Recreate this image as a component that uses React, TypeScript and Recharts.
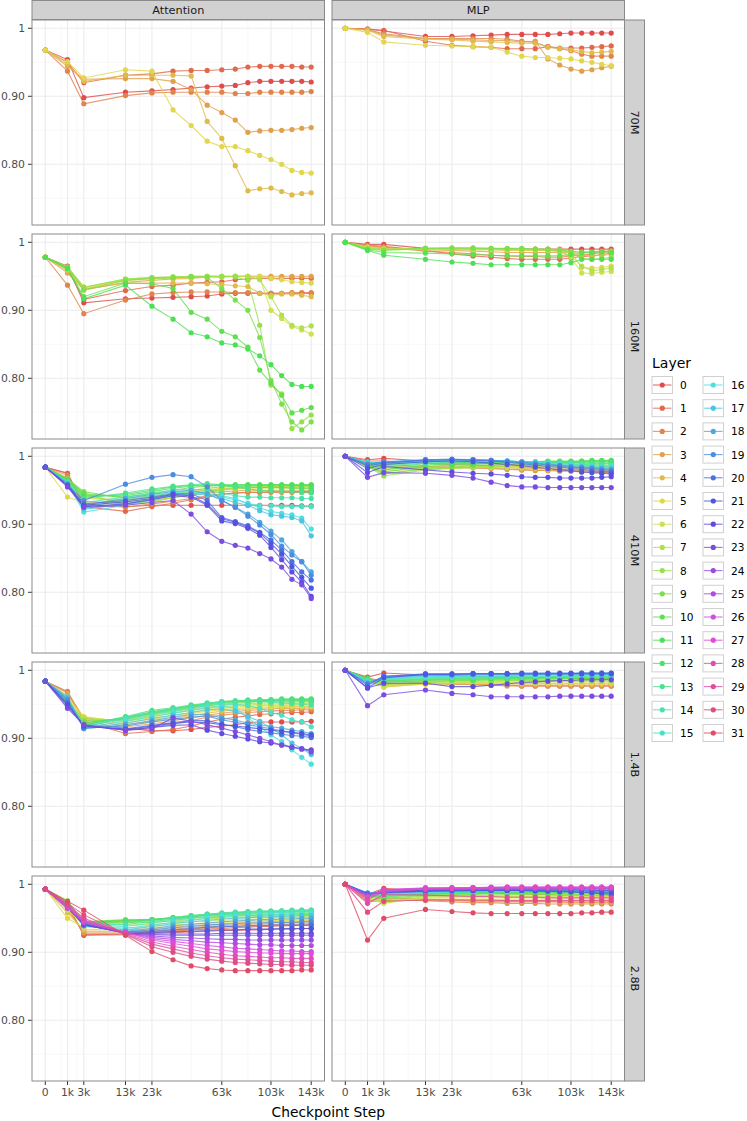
import React from "react";
import { LineChart, Line, XAxis, YAxis, CartesianGrid } from "recharts";

// checkpoint steps on the x axis (sqrt scale)
const steps = [0, 1000, 3000, 13000, 23000, 33000, 43000, 53000, 63000, 73000, 83000, 93000, 103000, 113000, 123000, 133000, 143000];
const xTicks = [0, 1000, 3000, 13000, 23000, 63000, 103000, 143000];
const xTickLabels = ["0", "1k", "3k", "13k", "23k", "63k", "103k", "143k"];
const xMinor = [500, 2000, 8000, 18000, 43000, 83000, 123000];
const yTicks = [0.8, 0.9, 1];
const yTickLabels = ["0.80", "0.90", "1"];
const yMinor = [0.75, 0.85, 0.95];
const models = ["70M", "160M", "410M", "1.4B", "2.8B"];
const modules = ["Attention", "MLP"];

// one row per layer, one value per checkpoint step
const attention70M = [
  [0.968, 0.954, 0.898, 0.906, 0.908, 0.910, 0.912, 0.914, 0.915, 0.916, 0.920, 0.922, 0.922, 0.922, 0.922, 0.922, 0.921],
  [0.968, 0.950, 0.920, 0.931, 0.933, 0.937, 0.938, 0.938, 0.939, 0.940, 0.943, 0.944, 0.944, 0.944, 0.944, 0.943, 0.943],
  [0.968, 0.937, 0.889, 0.901, 0.905, 0.906, 0.906, 0.906, 0.906, 0.904, 0.904, 0.906, 0.906, 0.906, 0.906, 0.906, 0.907],
  [0.968, 0.944, 0.925, 0.926, 0.926, 0.922, 0.910, 0.887, 0.876, 0.865, 0.847, 0.849, 0.850, 0.850, 0.851, 0.853, 0.854],
  [0.968, 0.947, 0.922, 0.931, 0.931, 0.931, 0.930, 0.863, 0.838, 0.798, 0.761, 0.764, 0.765, 0.760, 0.755, 0.757, 0.758],
  [0.968, 0.951, 0.927, 0.939, 0.937, 0.880, 0.857, 0.834, 0.826, 0.826, 0.820, 0.813, 0.807, 0.800, 0.791, 0.788, 0.787],
];

const mlp70M = [
  [1.0, 0.999, 0.996, 0.988, 0.988, 0.989, 0.990, 0.991, 0.991, 0.991, 0.991, 0.992, 0.993, 0.993, 0.993, 0.993, 0.993],
  [1.0, 0.999, 0.997, 0.981, 0.975, 0.973, 0.972, 0.970, 0.970, 0.970, 0.973, 0.971, 0.971, 0.971, 0.972, 0.973, 0.974],
  [1.0, 0.998, 0.992, 0.985, 0.985, 0.985, 0.985, 0.984, 0.981, 0.979, 0.973, 0.970, 0.967, 0.962, 0.959, 0.959, 0.959],
  [1.0, 0.998, 0.990, 0.985, 0.984, 0.983, 0.982, 0.982, 0.980, 0.981, 0.955, 0.946, 0.940, 0.937, 0.939, 0.942, 0.944],
  [1.0, 0.997, 0.988, 0.984, 0.983, 0.981, 0.980, 0.979, 0.978, 0.978, 0.972, 0.970, 0.968, 0.966, 0.964, 0.965, 0.966],
  [1.0, 0.994, 0.980, 0.975, 0.974, 0.973, 0.972, 0.965, 0.959, 0.957, 0.957, 0.956, 0.955, 0.952, 0.950, 0.947, 0.945],
];

const attention160M = [
  [0.978, 0.965, 0.911, 0.917, 0.918, 0.919, 0.920, 0.921, 0.924, 0.925, 0.925, 0.925, 0.925, 0.925, 0.925, 0.925, 0.925],
  [0.978, 0.960, 0.916, 0.929, 0.935, 0.937, 0.940, 0.941, 0.942, 0.945, 0.946, 0.947, 0.947, 0.947, 0.947, 0.947, 0.947],
  [0.978, 0.937, 0.895, 0.915, 0.924, 0.926, 0.927, 0.927, 0.927, 0.926, 0.926, 0.925, 0.925, 0.925, 0.926, 0.926, 0.926],
  [0.978, 0.955, 0.930, 0.941, 0.944, 0.946, 0.947, 0.949, 0.949, 0.950, 0.950, 0.950, 0.950, 0.950, 0.950, 0.950, 0.950],
  [0.978, 0.958, 0.931, 0.940, 0.940, 0.940, 0.940, 0.939, 0.938, 0.936, 0.935, 0.925, 0.922, 0.924, 0.924, 0.922, 0.920],
  [0.978, 0.960, 0.932, 0.944, 0.946, 0.947, 0.948, 0.949, 0.949, 0.950, 0.950, 0.950, 0.947, 0.945, 0.942, 0.941, 0.940],
  [0.978, 0.962, 0.933, 0.945, 0.947, 0.948, 0.949, 0.950, 0.950, 0.950, 0.950, 0.948, 0.900, 0.888, 0.876, 0.871, 0.865],
  [0.978, 0.963, 0.934, 0.946, 0.948, 0.949, 0.950, 0.950, 0.950, 0.950, 0.950, 0.945, 0.920, 0.893, 0.878, 0.874, 0.877],
  [0.978, 0.964, 0.934, 0.946, 0.948, 0.949, 0.950, 0.950, 0.950, 0.949, 0.944, 0.878, 0.790, 0.777, 0.726, 0.736, 0.746],
  [0.978, 0.963, 0.930, 0.944, 0.947, 0.948, 0.949, 0.948, 0.932, 0.915, 0.900, 0.860, 0.797, 0.762, 0.736, 0.724, 0.736],
  [0.978, 0.962, 0.920, 0.940, 0.939, 0.932, 0.897, 0.887, 0.869, 0.861, 0.846, 0.812, 0.793, 0.775, 0.749, 0.753, 0.757],
  [0.978, 0.961, 0.917, 0.937, 0.906, 0.887, 0.867, 0.861, 0.852, 0.849, 0.843, 0.833, 0.820, 0.804, 0.791, 0.788, 0.788],
];

const mlp160M = [
  [1.0, 0.997, 0.997, 0.991, 0.990, 0.990, 0.990, 0.990, 0.990, 0.990, 0.990, 0.990, 0.990, 0.990, 0.990, 0.990, 0.990],
  [1.0, 0.996, 0.994, 0.988, 0.983, 0.980, 0.978, 0.976, 0.975, 0.975, 0.975, 0.975, 0.977, 0.979, 0.980, 0.982, 0.984],
  [1.0, 0.995, 0.993, 0.987, 0.985, 0.983, 0.981, 0.980, 0.979, 0.979, 0.978, 0.978, 0.980, 0.981, 0.983, 0.985, 0.987],
  [1.0, 0.994, 0.992, 0.989, 0.988, 0.987, 0.986, 0.985, 0.985, 0.985, 0.985, 0.985, 0.985, 0.986, 0.986, 0.987, 0.987],
  [1.0, 0.993, 0.991, 0.990, 0.989, 0.989, 0.989, 0.988, 0.988, 0.988, 0.988, 0.988, 0.984, 0.981, 0.980, 0.981, 0.982],
  [1.0, 0.993, 0.990, 0.989, 0.989, 0.989, 0.989, 0.989, 0.989, 0.989, 0.989, 0.989, 0.985, 0.963, 0.962, 0.963, 0.965],
  [1.0, 0.992, 0.990, 0.990, 0.990, 0.990, 0.990, 0.989, 0.989, 0.989, 0.988, 0.986, 0.978, 0.955, 0.954, 0.956, 0.957],
  [1.0, 0.992, 0.990, 0.991, 0.991, 0.991, 0.990, 0.990, 0.990, 0.989, 0.988, 0.987, 0.980, 0.965, 0.958, 0.960, 0.962],
  [1.0, 0.991, 0.989, 0.991, 0.991, 0.991, 0.991, 0.990, 0.990, 0.990, 0.989, 0.988, 0.985, 0.976, 0.975, 0.976, 0.978],
  [1.0, 0.990, 0.988, 0.991, 0.992, 0.992, 0.991, 0.991, 0.991, 0.990, 0.990, 0.989, 0.987, 0.985, 0.985, 0.986, 0.987],
  [1.0, 0.989, 0.985, 0.984, 0.983, 0.982, 0.981, 0.980, 0.980, 0.980, 0.980, 0.980, 0.982, 0.984, 0.985, 0.986, 0.985],
  [1.0, 0.988, 0.981, 0.975, 0.971, 0.969, 0.967, 0.967, 0.967, 0.967, 0.967, 0.967, 0.970, 0.975, 0.975, 0.975, 0.975],
];

const attention410M = [
  [0.984, 0.975, 0.928, 0.926, 0.928, 0.928, 0.928, 0.928, 0.928, 0.928, 0.928, 0.928, 0.928, 0.928, 0.928, 0.927, 0.927],
  [0.984, 0.975, 0.926, 0.919, 0.926, 0.931, 0.936, 0.940, 0.944, 0.946, 0.947, 0.947, 0.948, 0.948, 0.948, 0.948, 0.948],
  [0.984, 0.972, 0.930, 0.925, 0.930, 0.934, 0.938, 0.942, 0.945, 0.946, 0.947, 0.947, 0.947, 0.947, 0.947, 0.947, 0.947],
  [0.984, 0.968, 0.934, 0.930, 0.935, 0.939, 0.943, 0.946, 0.948, 0.949, 0.950, 0.950, 0.950, 0.950, 0.950, 0.950, 0.950],
  [0.984, 0.960, 0.938, 0.936, 0.940, 0.943, 0.947, 0.950, 0.952, 0.953, 0.954, 0.954, 0.954, 0.954, 0.954, 0.954, 0.955],
  [0.984, 0.940, 0.932, 0.935, 0.940, 0.944, 0.948, 0.951, 0.953, 0.954, 0.954, 0.955, 0.955, 0.955, 0.955, 0.955, 0.956],
  [0.984, 0.962, 0.940, 0.933, 0.937, 0.942, 0.946, 0.949, 0.951, 0.952, 0.953, 0.953, 0.953, 0.953, 0.953, 0.953, 0.953],
  [0.984, 0.965, 0.944, 0.930, 0.934, 0.940, 0.945, 0.948, 0.951, 0.953, 0.954, 0.955, 0.955, 0.955, 0.955, 0.955, 0.955],
  [0.984, 0.966, 0.946, 0.928, 0.933, 0.939, 0.944, 0.948, 0.951, 0.953, 0.954, 0.955, 0.956, 0.956, 0.956, 0.956, 0.956],
  [0.984, 0.967, 0.948, 0.938, 0.942, 0.946, 0.950, 0.953, 0.955, 0.956, 0.957, 0.957, 0.957, 0.957, 0.957, 0.957, 0.957],
  [0.984, 0.966, 0.945, 0.940, 0.945, 0.950, 0.954, 0.956, 0.957, 0.958, 0.958, 0.958, 0.958, 0.958, 0.958, 0.958, 0.958],
  [0.984, 0.965, 0.942, 0.942, 0.948, 0.953, 0.956, 0.957, 0.958, 0.958, 0.958, 0.958, 0.958, 0.958, 0.958, 0.958, 0.958],
  [0.984, 0.964, 0.940, 0.944, 0.950, 0.955, 0.957, 0.958, 0.957, 0.956, 0.955, 0.954, 0.954, 0.954, 0.953, 0.953, 0.952],
  [0.984, 0.963, 0.938, 0.946, 0.952, 0.956, 0.958, 0.960, 0.958, 0.955, 0.952, 0.950, 0.949, 0.948, 0.948, 0.947, 0.946],
  [0.984, 0.962, 0.932, 0.940, 0.946, 0.950, 0.952, 0.950, 0.946, 0.942, 0.940, 0.940, 0.939, 0.939, 0.939, 0.938, 0.938],
  [0.984, 0.961, 0.925, 0.936, 0.942, 0.946, 0.948, 0.946, 0.942, 0.938, 0.930, 0.928, 0.927, 0.926, 0.926, 0.926, 0.926],
  [0.984, 0.960, 0.918, 0.928, 0.936, 0.943, 0.947, 0.945, 0.940, 0.936, 0.931, 0.924, 0.919, 0.916, 0.914, 0.909, 0.893],
  [0.984, 0.960, 0.922, 0.930, 0.937, 0.942, 0.945, 0.943, 0.938, 0.932, 0.928, 0.920, 0.914, 0.912, 0.910, 0.905, 0.883],
  [0.984, 0.960, 0.928, 0.938, 0.944, 0.948, 0.950, 0.945, 0.935, 0.925, 0.915, 0.903, 0.890, 0.877, 0.860, 0.845, 0.830],
  [0.984, 0.958, 0.935, 0.959, 0.969, 0.973, 0.970, 0.955, 0.935, 0.925, 0.912, 0.899, 0.885, 0.868, 0.855, 0.845, 0.825],
  [0.984, 0.958, 0.930, 0.935, 0.940, 0.945, 0.945, 0.935, 0.910, 0.904, 0.898, 0.888, 0.877, 0.862, 0.845, 0.830, 0.818],
  [0.984, 0.957, 0.928, 0.933, 0.938, 0.944, 0.942, 0.930, 0.908, 0.903, 0.896, 0.887, 0.872, 0.856, 0.838, 0.822, 0.806],
  [0.984, 0.956, 0.926, 0.930, 0.936, 0.942, 0.940, 0.928, 0.905, 0.901, 0.894, 0.884, 0.866, 0.848, 0.830, 0.815, 0.794],
  [0.984, 0.955, 0.925, 0.928, 0.932, 0.935, 0.915, 0.889, 0.875, 0.869, 0.865, 0.857, 0.849, 0.837, 0.819, 0.811, 0.791],
];

const mlp410M = [
  [1.0, 0.995, 0.997, 0.993, 0.991, 0.990, 0.989, 0.988, 0.987, 0.986, 0.985, 0.984, 0.984, 0.983, 0.982, 0.981, 0.980],
  [1.0, 0.993, 0.993, 0.990, 0.988, 0.987, 0.986, 0.985, 0.984, 0.983, 0.982, 0.981, 0.980, 0.979, 0.978, 0.977, 0.976],
  [1.0, 0.991, 0.988, 0.985, 0.984, 0.983, 0.982, 0.981, 0.980, 0.979, 0.979, 0.978, 0.978, 0.977, 0.977, 0.976, 0.976],
  [1.0, 0.989, 0.985, 0.984, 0.983, 0.983, 0.982, 0.981, 0.980, 0.980, 0.979, 0.979, 0.979, 0.978, 0.978, 0.978, 0.978],
  [1.0, 0.988, 0.983, 0.984, 0.984, 0.984, 0.983, 0.983, 0.982, 0.982, 0.981, 0.981, 0.981, 0.980, 0.980, 0.980, 0.980],
  [1.0, 0.987, 0.981, 0.983, 0.984, 0.984, 0.984, 0.984, 0.984, 0.983, 0.983, 0.983, 0.983, 0.983, 0.983, 0.983, 0.983],
  [1.0, 0.986, 0.978, 0.982, 0.983, 0.984, 0.984, 0.985, 0.985, 0.985, 0.985, 0.985, 0.985, 0.985, 0.985, 0.985, 0.985],
  [1.0, 0.985, 0.975, 0.981, 0.983, 0.984, 0.985, 0.986, 0.986, 0.986, 0.987, 0.987, 0.987, 0.987, 0.987, 0.987, 0.987],
  [1.0, 0.985, 0.971, 0.980, 0.982, 0.984, 0.985, 0.986, 0.987, 0.988, 0.988, 0.989, 0.989, 0.989, 0.989, 0.989, 0.990],
  [1.0, 0.986, 0.974, 0.982, 0.984, 0.986, 0.987, 0.988, 0.989, 0.990, 0.990, 0.991, 0.991, 0.991, 0.991, 0.992, 0.992],
  [1.0, 0.987, 0.977, 0.985, 0.987, 0.988, 0.989, 0.990, 0.991, 0.991, 0.992, 0.992, 0.992, 0.993, 0.993, 0.993, 0.993],
  [1.0, 0.988, 0.980, 0.987, 0.989, 0.990, 0.991, 0.991, 0.992, 0.992, 0.993, 0.993, 0.993, 0.993, 0.994, 0.994, 0.994],
  [1.0, 0.989, 0.984, 0.989, 0.990, 0.991, 0.991, 0.992, 0.992, 0.992, 0.992, 0.992, 0.992, 0.992, 0.992, 0.992, 0.992],
  [1.0, 0.990, 0.986, 0.990, 0.991, 0.992, 0.992, 0.992, 0.992, 0.992, 0.991, 0.991, 0.991, 0.990, 0.990, 0.990, 0.990],
  [1.0, 0.990, 0.988, 0.991, 0.992, 0.993, 0.993, 0.993, 0.992, 0.992, 0.991, 0.990, 0.989, 0.988, 0.988, 0.987, 0.987],
  [1.0, 0.991, 0.989, 0.992, 0.993, 0.993, 0.993, 0.993, 0.992, 0.991, 0.990, 0.989, 0.988, 0.987, 0.986, 0.985, 0.985],
  [1.0, 0.991, 0.990, 0.993, 0.994, 0.994, 0.994, 0.993, 0.992, 0.991, 0.989, 0.988, 0.987, 0.986, 0.985, 0.984, 0.983],
  [1.0, 0.990, 0.991, 0.994, 0.995, 0.995, 0.994, 0.993, 0.992, 0.990, 0.989, 0.987, 0.986, 0.985, 0.984, 0.983, 0.982],
  [1.0, 0.989, 0.991, 0.995, 0.995, 0.995, 0.994, 0.993, 0.991, 0.990, 0.988, 0.987, 0.985, 0.984, 0.983, 0.982, 0.981],
  [1.0, 0.988, 0.992, 0.995, 0.996, 0.995, 0.994, 0.992, 0.991, 0.989, 0.987, 0.986, 0.984, 0.983, 0.982, 0.980, 0.979],
  [1.0, 0.986, 0.990, 0.994, 0.995, 0.994, 0.993, 0.991, 0.989, 0.987, 0.985, 0.984, 0.982, 0.981, 0.979, 0.978, 0.977],
  [1.0, 0.982, 0.988, 0.992, 0.993, 0.992, 0.990, 0.988, 0.986, 0.984, 0.982, 0.980, 0.979, 0.977, 0.976, 0.975, 0.974],
  [1.0, 0.976, 0.985, 0.980, 0.977, 0.975, 0.974, 0.972, 0.970, 0.969, 0.969, 0.968, 0.968, 0.968, 0.968, 0.969, 0.970],
  [1.0, 0.969, 0.976, 0.975, 0.972, 0.968, 0.962, 0.957, 0.955, 0.955, 0.954, 0.954, 0.954, 0.954, 0.954, 0.954, 0.954],
];

const attention1p4B = [
  [0.984, 0.958, 0.921, 0.915, 0.911, 0.911, 0.913, 0.916, 0.918, 0.920, 0.923, 0.924, 0.924, 0.924, 0.924, 0.924, 0.925],
  [0.984, 0.968, 0.925, 0.907, 0.910, 0.913, 0.918, 0.924, 0.928, 0.931, 0.933, 0.935, 0.936, 0.937, 0.938, 0.938, 0.939],
  [0.984, 0.969, 0.928, 0.912, 0.916, 0.921, 0.926, 0.931, 0.934, 0.936, 0.938, 0.939, 0.940, 0.941, 0.941, 0.942, 0.942],
  [0.984, 0.966, 0.930, 0.917, 0.921, 0.926, 0.930, 0.934, 0.937, 0.939, 0.941, 0.942, 0.943, 0.944, 0.944, 0.944, 0.945],
  [0.984, 0.962, 0.931, 0.920, 0.925, 0.929, 0.933, 0.937, 0.940, 0.942, 0.943, 0.944, 0.945, 0.945, 0.946, 0.946, 0.946],
  [0.984, 0.958, 0.932, 0.923, 0.928, 0.932, 0.936, 0.940, 0.942, 0.944, 0.945, 0.946, 0.946, 0.947, 0.947, 0.947, 0.947],
  [0.984, 0.955, 0.931, 0.925, 0.930, 0.934, 0.938, 0.942, 0.944, 0.946, 0.947, 0.948, 0.948, 0.948, 0.948, 0.949, 0.949],
  [0.984, 0.953, 0.929, 0.926, 0.932, 0.937, 0.941, 0.944, 0.946, 0.948, 0.949, 0.950, 0.950, 0.950, 0.950, 0.951, 0.951],
  [0.984, 0.952, 0.927, 0.927, 0.934, 0.939, 0.943, 0.946, 0.948, 0.950, 0.951, 0.952, 0.952, 0.952, 0.953, 0.953, 0.953],
  [0.984, 0.951, 0.925, 0.928, 0.936, 0.941, 0.945, 0.948, 0.950, 0.952, 0.953, 0.954, 0.954, 0.954, 0.954, 0.955, 0.955],
  [0.984, 0.950, 0.923, 0.929, 0.937, 0.942, 0.946, 0.949, 0.952, 0.953, 0.954, 0.955, 0.955, 0.956, 0.956, 0.956, 0.956],
  [0.984, 0.949, 0.921, 0.930, 0.938, 0.943, 0.947, 0.950, 0.953, 0.954, 0.955, 0.956, 0.956, 0.957, 0.957, 0.957, 0.957],
  [0.984, 0.950, 0.920, 0.931, 0.939, 0.944, 0.948, 0.951, 0.954, 0.955, 0.956, 0.957, 0.957, 0.958, 0.958, 0.958, 0.958],
  [0.984, 0.952, 0.919, 0.932, 0.941, 0.945, 0.949, 0.952, 0.954, 0.955, 0.956, 0.956, 0.956, 0.956, 0.956, 0.955, 0.955],
  [0.984, 0.955, 0.918, 0.930, 0.938, 0.943, 0.947, 0.951, 0.953, 0.954, 0.954, 0.954, 0.953, 0.952, 0.951, 0.950, 0.949],
  [0.984, 0.958, 0.917, 0.928, 0.935, 0.940, 0.944, 0.948, 0.950, 0.950, 0.948, 0.944, 0.938, 0.934, 0.927, 0.924, 0.917],
  [0.984, 0.960, 0.916, 0.925, 0.932, 0.937, 0.941, 0.945, 0.947, 0.945, 0.930, 0.917, 0.905, 0.895, 0.883, 0.872, 0.862],
  [0.984, 0.961, 0.915, 0.922, 0.929, 0.934, 0.938, 0.942, 0.943, 0.940, 0.932, 0.925, 0.915, 0.905, 0.893, 0.885, 0.876],
  [0.984, 0.958, 0.914, 0.920, 0.926, 0.931, 0.935, 0.935, 0.930, 0.927, 0.922, 0.920, 0.917, 0.915, 0.912, 0.910, 0.907],
  [0.984, 0.956, 0.915, 0.918, 0.924, 0.928, 0.931, 0.933, 0.927, 0.924, 0.920, 0.917, 0.914, 0.911, 0.908, 0.906, 0.903],
  [0.984, 0.952, 0.917, 0.914, 0.919, 0.923, 0.926, 0.926, 0.921, 0.917, 0.913, 0.910, 0.908, 0.906, 0.904, 0.903, 0.901],
  [0.984, 0.950, 0.918, 0.913, 0.918, 0.922, 0.924, 0.923, 0.920, 0.918, 0.916, 0.914, 0.912, 0.910, 0.909, 0.907, 0.905],
  [0.984, 0.947, 0.919, 0.912, 0.916, 0.919, 0.920, 0.912, 0.907, 0.903, 0.899, 0.895, 0.893, 0.890, 0.887, 0.884, 0.883],
  [0.984, 0.944, 0.920, 0.912, 0.914, 0.930, 0.925, 0.920, 0.915, 0.910, 0.905, 0.900, 0.895, 0.890, 0.887, 0.885, 0.880],
];

const mlp1p4B = [
  [1.0, 0.990, 0.996, 0.993, 0.992, 0.991, 0.990, 0.990, 0.989, 0.989, 0.989, 0.989, 0.988, 0.988, 0.988, 0.988, 0.988],
  [1.0, 0.988, 0.985, 0.982, 0.980, 0.979, 0.978, 0.978, 0.977, 0.977, 0.977, 0.977, 0.977, 0.977, 0.977, 0.977, 0.977],
  [1.0, 0.987, 0.980, 0.981, 0.980, 0.979, 0.978, 0.977, 0.977, 0.977, 0.977, 0.977, 0.977, 0.977, 0.977, 0.977, 0.977],
  [1.0, 0.986, 0.978, 0.980, 0.980, 0.979, 0.979, 0.978, 0.978, 0.978, 0.978, 0.978, 0.978, 0.978, 0.978, 0.978, 0.978],
  [1.0, 0.985, 0.976, 0.980, 0.980, 0.980, 0.980, 0.980, 0.980, 0.980, 0.980, 0.980, 0.980, 0.980, 0.980, 0.980, 0.980],
  [1.0, 0.984, 0.975, 0.980, 0.981, 0.981, 0.981, 0.981, 0.981, 0.981, 0.981, 0.981, 0.981, 0.981, 0.981, 0.981, 0.981],
  [1.0, 0.984, 0.977, 0.981, 0.982, 0.982, 0.982, 0.982, 0.982, 0.982, 0.983, 0.983, 0.983, 0.983, 0.983, 0.983, 0.983],
  [1.0, 0.985, 0.979, 0.982, 0.983, 0.983, 0.983, 0.984, 0.984, 0.984, 0.984, 0.984, 0.984, 0.984, 0.984, 0.984, 0.984],
  [1.0, 0.986, 0.980, 0.983, 0.984, 0.984, 0.985, 0.985, 0.985, 0.985, 0.985, 0.985, 0.985, 0.985, 0.985, 0.986, 0.986],
  [1.0, 0.987, 0.982, 0.984, 0.985, 0.985, 0.986, 0.986, 0.986, 0.986, 0.986, 0.987, 0.987, 0.987, 0.987, 0.987, 0.987],
  [1.0, 0.988, 0.983, 0.985, 0.986, 0.986, 0.987, 0.987, 0.987, 0.987, 0.988, 0.988, 0.988, 0.988, 0.988, 0.988, 0.988],
  [1.0, 0.988, 0.984, 0.986, 0.987, 0.987, 0.988, 0.988, 0.988, 0.988, 0.989, 0.989, 0.989, 0.989, 0.989, 0.989, 0.989],
  [1.0, 0.987, 0.985, 0.987, 0.988, 0.988, 0.989, 0.989, 0.989, 0.989, 0.990, 0.990, 0.990, 0.990, 0.990, 0.990, 0.990],
  [1.0, 0.986, 0.986, 0.988, 0.989, 0.989, 0.990, 0.990, 0.990, 0.990, 0.990, 0.991, 0.991, 0.991, 0.991, 0.991, 0.991],
  [1.0, 0.985, 0.987, 0.989, 0.990, 0.990, 0.990, 0.991, 0.991, 0.991, 0.991, 0.991, 0.992, 0.992, 0.992, 0.992, 0.992],
  [1.0, 0.984, 0.988, 0.990, 0.990, 0.991, 0.991, 0.991, 0.992, 0.992, 0.992, 0.992, 0.992, 0.993, 0.993, 0.993, 0.993],
  [1.0, 0.983, 0.988, 0.991, 0.991, 0.992, 0.992, 0.992, 0.993, 0.993, 0.993, 0.993, 0.993, 0.993, 0.994, 0.994, 0.994],
  [1.0, 0.982, 0.989, 0.992, 0.992, 0.993, 0.993, 0.993, 0.993, 0.994, 0.994, 0.994, 0.994, 0.994, 0.994, 0.994, 0.995],
  [1.0, 0.981, 0.990, 0.993, 0.993, 0.994, 0.994, 0.994, 0.994, 0.994, 0.995, 0.995, 0.995, 0.995, 0.995, 0.995, 0.995],
  [1.0, 0.980, 0.991, 0.994, 0.994, 0.995, 0.995, 0.995, 0.995, 0.995, 0.995, 0.995, 0.995, 0.996, 0.996, 0.996, 0.996],
  [1.0, 0.978, 0.991, 0.995, 0.995, 0.995, 0.995, 0.995, 0.996, 0.996, 0.996, 0.996, 0.996, 0.996, 0.996, 0.996, 0.996],
  [1.0, 0.974, 0.989, 0.994, 0.994, 0.995, 0.995, 0.995, 0.995, 0.995, 0.995, 0.995, 0.995, 0.995, 0.995, 0.995, 0.995],
  [1.0, 0.974, 0.981, 0.981, 0.976, 0.976, 0.978, 0.980, 0.982, 0.983, 0.984, 0.985, 0.985, 0.986, 0.986, 0.986, 0.986],
  [1.0, 0.948, 0.964, 0.971, 0.966, 0.964, 0.961, 0.961, 0.961, 0.961, 0.961, 0.962, 0.962, 0.962, 0.962, 0.962, 0.962],
];

const attention2p8B = [
  [0.993, 0.970, 0.925, 0.926, 0.928, 0.929, 0.930, 0.931, 0.932, 0.932, 0.933, 0.933, 0.934, 0.934, 0.934, 0.935, 0.935],
  [0.993, 0.968, 0.926, 0.927, 0.929, 0.931, 0.933, 0.934, 0.935, 0.936, 0.937, 0.938, 0.938, 0.939, 0.939, 0.940, 0.940],
  [0.993, 0.965, 0.928, 0.928, 0.930, 0.932, 0.934, 0.936, 0.937, 0.938, 0.939, 0.940, 0.940, 0.941, 0.941, 0.942, 0.942],
  [0.993, 0.962, 0.930, 0.930, 0.932, 0.934, 0.936, 0.938, 0.939, 0.940, 0.941, 0.942, 0.943, 0.943, 0.944, 0.944, 0.945],
  [0.993, 0.958, 0.933, 0.933, 0.935, 0.937, 0.939, 0.941, 0.942, 0.943, 0.944, 0.945, 0.945, 0.946, 0.946, 0.946, 0.947],
  [0.993, 0.950, 0.936, 0.936, 0.938, 0.940, 0.942, 0.943, 0.944, 0.945, 0.946, 0.946, 0.947, 0.947, 0.947, 0.948, 0.948],
  [0.993, 0.962, 0.940, 0.940, 0.941, 0.943, 0.945, 0.946, 0.947, 0.948, 0.948, 0.949, 0.949, 0.949, 0.949, 0.949, 0.949],
  [0.993, 0.976, 0.943, 0.944, 0.944, 0.946, 0.948, 0.949, 0.950, 0.950, 0.951, 0.951, 0.951, 0.951, 0.951, 0.951, 0.951],
  [0.993, 0.975, 0.944, 0.946, 0.946, 0.948, 0.950, 0.951, 0.952, 0.952, 0.952, 0.953, 0.953, 0.953, 0.953, 0.953, 0.953],
  [0.993, 0.974, 0.945, 0.948, 0.948, 0.950, 0.951, 0.952, 0.953, 0.954, 0.954, 0.954, 0.954, 0.954, 0.955, 0.955, 0.955],
  [0.993, 0.973, 0.945, 0.947, 0.948, 0.950, 0.952, 0.954, 0.955, 0.955, 0.956, 0.956, 0.956, 0.956, 0.956, 0.956, 0.956],
  [0.993, 0.972, 0.944, 0.946, 0.948, 0.951, 0.953, 0.955, 0.956, 0.957, 0.957, 0.958, 0.958, 0.958, 0.958, 0.958, 0.958],
  [0.993, 0.972, 0.943, 0.945, 0.948, 0.951, 0.954, 0.956, 0.957, 0.958, 0.959, 0.959, 0.960, 0.960, 0.960, 0.960, 0.960],
  [0.993, 0.971, 0.942, 0.943, 0.947, 0.951, 0.954, 0.956, 0.958, 0.959, 0.960, 0.961, 0.961, 0.961, 0.962, 0.962, 0.962],
  [0.993, 0.970, 0.941, 0.941, 0.945, 0.949, 0.952, 0.955, 0.957, 0.958, 0.959, 0.960, 0.960, 0.961, 0.961, 0.962, 0.962],
  [0.993, 0.970, 0.940, 0.938, 0.943, 0.947, 0.950, 0.953, 0.955, 0.956, 0.957, 0.958, 0.958, 0.959, 0.959, 0.960, 0.960],
  [0.993, 0.969, 0.939, 0.935, 0.940, 0.944, 0.947, 0.950, 0.952, 0.953, 0.954, 0.955, 0.955, 0.956, 0.956, 0.957, 0.957],
  [0.993, 0.969, 0.939, 0.933, 0.938, 0.942, 0.945, 0.947, 0.949, 0.950, 0.951, 0.952, 0.952, 0.953, 0.953, 0.954, 0.954],
  [0.993, 0.968, 0.939, 0.931, 0.935, 0.939, 0.941, 0.943, 0.945, 0.946, 0.947, 0.948, 0.948, 0.949, 0.949, 0.950, 0.950],
  [0.993, 0.968, 0.940, 0.930, 0.933, 0.936, 0.938, 0.940, 0.941, 0.942, 0.943, 0.943, 0.944, 0.944, 0.944, 0.945, 0.945],
  [0.993, 0.967, 0.940, 0.929, 0.931, 0.933, 0.935, 0.937, 0.938, 0.938, 0.939, 0.939, 0.940, 0.940, 0.940, 0.940, 0.940],
  [0.993, 0.967, 0.941, 0.928, 0.929, 0.930, 0.931, 0.932, 0.933, 0.933, 0.934, 0.934, 0.934, 0.935, 0.935, 0.935, 0.935],
  [0.993, 0.966, 0.941, 0.928, 0.927, 0.927, 0.927, 0.927, 0.928, 0.928, 0.928, 0.928, 0.928, 0.928, 0.928, 0.928, 0.928],
  [0.993, 0.966, 0.942, 0.928, 0.926, 0.925, 0.925, 0.925, 0.925, 0.925, 0.925, 0.925, 0.925, 0.925, 0.925, 0.925, 0.925],
  [0.993, 0.965, 0.943, 0.928, 0.924, 0.922, 0.921, 0.920, 0.919, 0.919, 0.918, 0.918, 0.918, 0.918, 0.918, 0.918, 0.918],
  [0.993, 0.965, 0.944, 0.929, 0.922, 0.919, 0.917, 0.915, 0.914, 0.913, 0.912, 0.911, 0.911, 0.910, 0.910, 0.910, 0.910],
  [0.993, 0.966, 0.945, 0.929, 0.920, 0.916, 0.913, 0.910, 0.908, 0.906, 0.905, 0.904, 0.903, 0.902, 0.902, 0.901, 0.901],
  [0.993, 0.967, 0.946, 0.929, 0.918, 0.913, 0.909, 0.905, 0.903, 0.901, 0.900, 0.899, 0.899, 0.898, 0.898, 0.898, 0.898],
  [0.993, 0.968, 0.948, 0.928, 0.915, 0.909, 0.904, 0.900, 0.897, 0.895, 0.894, 0.893, 0.892, 0.892, 0.891, 0.891, 0.891],
  [0.993, 0.970, 0.950, 0.927, 0.912, 0.905, 0.899, 0.895, 0.892, 0.890, 0.889, 0.888, 0.887, 0.886, 0.886, 0.885, 0.885],
  [0.993, 0.972, 0.955, 0.926, 0.908, 0.900, 0.894, 0.890, 0.887, 0.885, 0.884, 0.883, 0.882, 0.882, 0.881, 0.881, 0.881],
  [0.993, 0.975, 0.962, 0.925, 0.901, 0.889, 0.880, 0.876, 0.874, 0.873, 0.873, 0.873, 0.873, 0.873, 0.873, 0.874, 0.874],
];

const mlp2p8B = [
  [1.0, 0.985, 0.994, 0.990, 0.989, 0.988, 0.987, 0.986, 0.986, 0.985, 0.985, 0.984, 0.984, 0.984, 0.983, 0.983, 0.983],
  [1.0, 0.976, 0.980, 0.978, 0.977, 0.976, 0.976, 0.975, 0.975, 0.975, 0.975, 0.974, 0.974, 0.974, 0.974, 0.974, 0.974],
  [1.0, 0.974, 0.977, 0.976, 0.974, 0.973, 0.973, 0.972, 0.972, 0.972, 0.971, 0.971, 0.971, 0.971, 0.971, 0.971, 0.971],
  [1.0, 0.975, 0.976, 0.977, 0.976, 0.975, 0.975, 0.974, 0.974, 0.974, 0.974, 0.974, 0.973, 0.973, 0.973, 0.973, 0.973],
  [1.0, 0.977, 0.975, 0.978, 0.978, 0.977, 0.977, 0.977, 0.977, 0.977, 0.977, 0.977, 0.977, 0.977, 0.977, 0.977, 0.977],
  [1.0, 0.979, 0.973, 0.980, 0.980, 0.980, 0.980, 0.980, 0.980, 0.980, 0.980, 0.980, 0.980, 0.980, 0.980, 0.980, 0.980],
  [1.0, 0.980, 0.972, 0.981, 0.982, 0.982, 0.982, 0.982, 0.982, 0.982, 0.982, 0.982, 0.982, 0.982, 0.982, 0.982, 0.982],
  [1.0, 0.981, 0.974, 0.982, 0.983, 0.983, 0.983, 0.983, 0.983, 0.983, 0.983, 0.984, 0.984, 0.984, 0.984, 0.984, 0.984],
  [1.0, 0.982, 0.977, 0.983, 0.984, 0.984, 0.984, 0.985, 0.985, 0.985, 0.985, 0.985, 0.985, 0.985, 0.985, 0.985, 0.985],
  [1.0, 0.983, 0.979, 0.984, 0.985, 0.985, 0.986, 0.986, 0.986, 0.986, 0.986, 0.986, 0.986, 0.986, 0.986, 0.987, 0.987],
  [1.0, 0.983, 0.981, 0.985, 0.986, 0.986, 0.987, 0.987, 0.987, 0.987, 0.987, 0.987, 0.987, 0.988, 0.988, 0.988, 0.988],
  [1.0, 0.984, 0.982, 0.986, 0.987, 0.987, 0.988, 0.988, 0.988, 0.988, 0.988, 0.988, 0.988, 0.988, 0.989, 0.989, 0.989],
  [1.0, 0.984, 0.983, 0.986, 0.987, 0.988, 0.988, 0.988, 0.989, 0.989, 0.989, 0.989, 0.989, 0.989, 0.989, 0.989, 0.989],
  [1.0, 0.985, 0.984, 0.987, 0.988, 0.988, 0.989, 0.989, 0.989, 0.989, 0.989, 0.990, 0.990, 0.990, 0.990, 0.990, 0.990],
  [1.0, 0.985, 0.985, 0.987, 0.988, 0.989, 0.989, 0.989, 0.990, 0.990, 0.990, 0.990, 0.990, 0.990, 0.990, 0.990, 0.990],
  [1.0, 0.986, 0.985, 0.988, 0.989, 0.989, 0.990, 0.990, 0.990, 0.990, 0.990, 0.990, 0.990, 0.991, 0.991, 0.991, 0.991],
  [1.0, 0.986, 0.986, 0.988, 0.989, 0.990, 0.990, 0.990, 0.990, 0.991, 0.991, 0.991, 0.991, 0.991, 0.991, 0.991, 0.991],
  [1.0, 0.987, 0.987, 0.989, 0.990, 0.990, 0.990, 0.991, 0.991, 0.991, 0.991, 0.991, 0.991, 0.991, 0.991, 0.991, 0.991],
  [1.0, 0.987, 0.987, 0.989, 0.990, 0.990, 0.991, 0.991, 0.991, 0.991, 0.991, 0.991, 0.991, 0.991, 0.990, 0.990, 0.990],
  [1.0, 0.987, 0.988, 0.990, 0.990, 0.991, 0.991, 0.991, 0.991, 0.991, 0.991, 0.990, 0.990, 0.990, 0.989, 0.989, 0.988],
  [1.0, 0.986, 0.988, 0.990, 0.991, 0.991, 0.991, 0.991, 0.991, 0.991, 0.990, 0.990, 0.989, 0.988, 0.987, 0.986, 0.985],
  [1.0, 0.985, 0.988, 0.990, 0.991, 0.991, 0.991, 0.991, 0.991, 0.990, 0.990, 0.989, 0.989, 0.988, 0.988, 0.987, 0.987],
  [1.0, 0.984, 0.989, 0.991, 0.992, 0.992, 0.992, 0.992, 0.992, 0.992, 0.992, 0.992, 0.992, 0.992, 0.991, 0.991, 0.991],
  [1.0, 0.984, 0.990, 0.992, 0.993, 0.993, 0.993, 0.993, 0.993, 0.993, 0.993, 0.993, 0.993, 0.993, 0.993, 0.993, 0.993],
  [1.0, 0.984, 0.991, 0.993, 0.993, 0.994, 0.994, 0.994, 0.994, 0.994, 0.994, 0.994, 0.994, 0.994, 0.994, 0.994, 0.994],
  [1.0, 0.983, 0.992, 0.994, 0.994, 0.995, 0.995, 0.995, 0.995, 0.995, 0.995, 0.995, 0.995, 0.995, 0.995, 0.995, 0.995],
  [1.0, 0.982, 0.992, 0.995, 0.995, 0.995, 0.996, 0.996, 0.996, 0.996, 0.996, 0.996, 0.996, 0.996, 0.996, 0.996, 0.996],
  [1.0, 0.980, 0.991, 0.994, 0.995, 0.995, 0.995, 0.996, 0.996, 0.996, 0.996, 0.996, 0.996, 0.996, 0.996, 0.996, 0.996],
  [1.0, 0.978, 0.989, 0.993, 0.994, 0.994, 0.995, 0.995, 0.995, 0.995, 0.995, 0.995, 0.995, 0.995, 0.995, 0.995, 0.995],
  [1.0, 0.972, 0.985, 0.984, 0.983, 0.982, 0.982, 0.981, 0.981, 0.981, 0.980, 0.980, 0.980, 0.980, 0.980, 0.980, 0.980],
  [1.0, 0.959, 0.975, 0.977, 0.977, 0.977, 0.977, 0.976, 0.976, 0.976, 0.976, 0.976, 0.976, 0.976, 0.976, 0.976, 0.976],
  [1.0, 0.918, 0.950, 0.963, 0.960, 0.958, 0.957, 0.957, 0.957, 0.957, 0.957, 0.957, 0.957, 0.958, 0.958, 0.959, 0.959],
];

const attentionByModel = [attention70M, attention160M, attention410M, attention1p4B, attention2p8B];
const mlpByModel = [mlp70M, mlp160M, mlp410M, mlp1p4B, mlp2p8B];

// rainbow palette, softened
function hsvHex(h: number, s: number, v: number): string {
  const f = (n: number) => {
    const k = (n + h / 60) % 6;
    const c = v - v * s * Math.max(0, Math.min(k, 4 - k, 1));
    return Math.round(c * 255).toString(16).padStart(2, "0");
  };
  return "#" + f(5) + f(3) + f(1);
}

const layerColors = Array.from({ length: 32 }, (_, i) => hsvHex((i * 360) / 32, 0.66, 0.88));

function toRows(series: number[][]) {
  return steps.map((s, j) => {
    const row: Record<string, number> = { step: s };
    series.forEach((vals, i) => {
      row["L" + i] = vals[j];
    });
    return row;
  });
}

const FONT = "DejaVu Sans";
const COL_X = [32, 332];
const PANEL_W = 292.5;
const ROW_Y = [20, 234, 448, 662, 876];
const PANEL_H = 205;
const Y_AXIS_W = 32;
const X_AXIS_H = 26;
const X_DOMAIN = [-357.5, 157657];
const Y_DOMAIN = [0.7107, 1.0122];
const BORDER = "#8a8a8a";
const STRIP_FILL = "#d1d1d1";

const Panel = ({ series, row, col }: { series: number[][]; row: number; col: number }) => {
  const data = toRows(series);
  const showY = col === 0;
  const showX = row === ROW_Y.length - 1;
  const width = PANEL_W + (showY ? Y_AXIS_W : 0);
  const height = PANEL_H + (showX ? X_AXIS_H : 0);
  return (
    <div
      style={{
        position: "absolute",
        left: COL_X[col] - (showY ? Y_AXIS_W : 0),
        top: ROW_Y[row],
        width,
        height,
      }}
    >
      <LineChart width={width} height={height} data={data} margin={{ top: 0, right: 0, bottom: 0, left: 0 }}>
        <CartesianGrid
          verticalValues={xMinor}
          horizontalValues={yMinor}
          stroke="#f4f4f4"
          strokeWidth={0.6}
        />
        <CartesianGrid
          verticalValues={xTicks}
          horizontalValues={yTicks}
          stroke="#ebebeb"
          strokeWidth={1.1}
        />
        <XAxis
          dataKey="step"
          type="number"
          scale="sqrt"
          domain={X_DOMAIN}
          ticks={xTicks}
          allowDataOverflow
          hide={!showX}
          height={X_AXIS_H}
          interval={0}
          tickFormatter={(v: number) => xTickLabels[xTicks.indexOf(v)]}
          tick={{ fontSize: 10.8, fill: "#4d4d4d", fontFamily: FONT }}
          tickLine={{ stroke: "#333333" }}
          tickSize={4}
          tickMargin={3}
          axisLine={false}
        />
        <YAxis
          type="number"
          domain={Y_DOMAIN}
          ticks={yTicks}
          allowDataOverflow
          hide={!showY}
          width={Y_AXIS_W}
          interval={0}
          tickFormatter={(v: number) => yTickLabels[yTicks.indexOf(v)]}
          tick={{ fontSize: 10.8, fill: "#4d4d4d", fontFamily: FONT }}
          tickLine={{ stroke: "#333333" }}
          tickSize={4}
          tickMargin={3}
          axisLine={false}
        />
        {series.map((_, i) => (
          <Line
            key={i}
            type="linear"
            dataKey={"L" + i}
            stroke={layerColors[i]}
            strokeOpacity={0.8}
            strokeWidth={1.1}
            dot={{ r: 2.6, fill: layerColors[i], stroke: layerColors[i], strokeWidth: 0 }}
            activeDot={false}
            isAnimationActive={false}
          />
        ))}
      </LineChart>
    </div>
  );
};

const Overlay = () => {
  const legendTop = 385;
  const legendStep = 23.2;
  return (
    <svg
      width={747}
      height={1121}
      style={{ position: "absolute", left: 0, top: 0, pointerEvents: "none" }}
      fontFamily={FONT}
    >
      {/* panel borders */}
      {ROW_Y.map((y) =>
        COL_X.map((x) => (
          <rect key={x + "-" + y} x={x} y={y} width={PANEL_W} height={PANEL_H} fill="none" stroke={BORDER} strokeWidth={1} />
        ))
      )}
      {/* column strips */}
      {modules.map((m, c) => (
        <g key={m}>
          <rect x={COL_X[c]} y={0.5} width={PANEL_W} height={19} fill={STRIP_FILL} stroke={BORDER} strokeWidth={1} />
          <text x={COL_X[c] + PANEL_W / 2} y={10.5} textAnchor="middle" dominantBaseline="central" fontSize={11.3} fill="#1a1a1a">
            {m}
          </text>
        </g>
      ))}
      {/* row strips */}
      {models.map((m, r) => (
        <g key={m}>
          <rect x={COL_X[1] + PANEL_W} y={ROW_Y[r]} width={20} height={PANEL_H} fill={STRIP_FILL} stroke={BORDER} strokeWidth={1} />
          <text
            x={COL_X[1] + PANEL_W + 10}
            y={ROW_Y[r] + PANEL_H / 2}
            textAnchor="middle"
            dominantBaseline="central"
            fontSize={11.3}
            fill="#1a1a1a"
            transform={`rotate(90 ${COL_X[1] + PANEL_W + 10} ${ROW_Y[r] + PANEL_H / 2})`}
          >
            {m}
          </text>
        </g>
      ))}
      {/* x axis title */}
      <text x={(COL_X[0] + COL_X[1] + PANEL_W) / 2} y={1117} textAnchor="middle" fontSize={13.8} fill="#000">
        Checkpoint Step
      </text>
      {/* legend */}
      <text x={652} y={367.5} fontSize={14} fill="#000">
        Layer
      </text>
      {layerColors.map((color, i) => {
        const col = i < 16 ? 0 : 1;
        const cy = legendTop + (i % 16) * legendStep;
        const bx = col === 0 ? 652 : 703;
        return (
          <g key={i}>
            <rect x={bx} y={cy - 8.5} width={20.5} height={17} fill="#ffffff" stroke="#d0d0d0" strokeWidth={1} />
            <line x1={bx + 1} x2={bx + 19.5} y1={cy} y2={cy} stroke={color} strokeOpacity={0.8} strokeWidth={1.1} />
            <circle cx={bx + 10.25} cy={cy} r={2.6} fill={color} />
            <text x={col === 0 ? 680 : 731} y={cy} dominantBaseline="central" fontSize={10.6} fill="#000">
              {String(i)}
            </text>
          </g>
        );
      })}
    </svg>
  );
};

const App: React.FC = () => {
  return (
    <div style={{ position: "absolute", left: 0, top: 0, width: 747, height: 1121, background: "#fff", fontFamily: FONT }}>
      {models.map((m, r) => (
        <React.Fragment key={m}>
          <Panel series={attentionByModel[r]} row={r} col={0} />
          <Panel series={mlpByModel[r]} row={r} col={1} />
        </React.Fragment>
      ))}
      <Overlay />
    </div>
  );
};

export default App;
